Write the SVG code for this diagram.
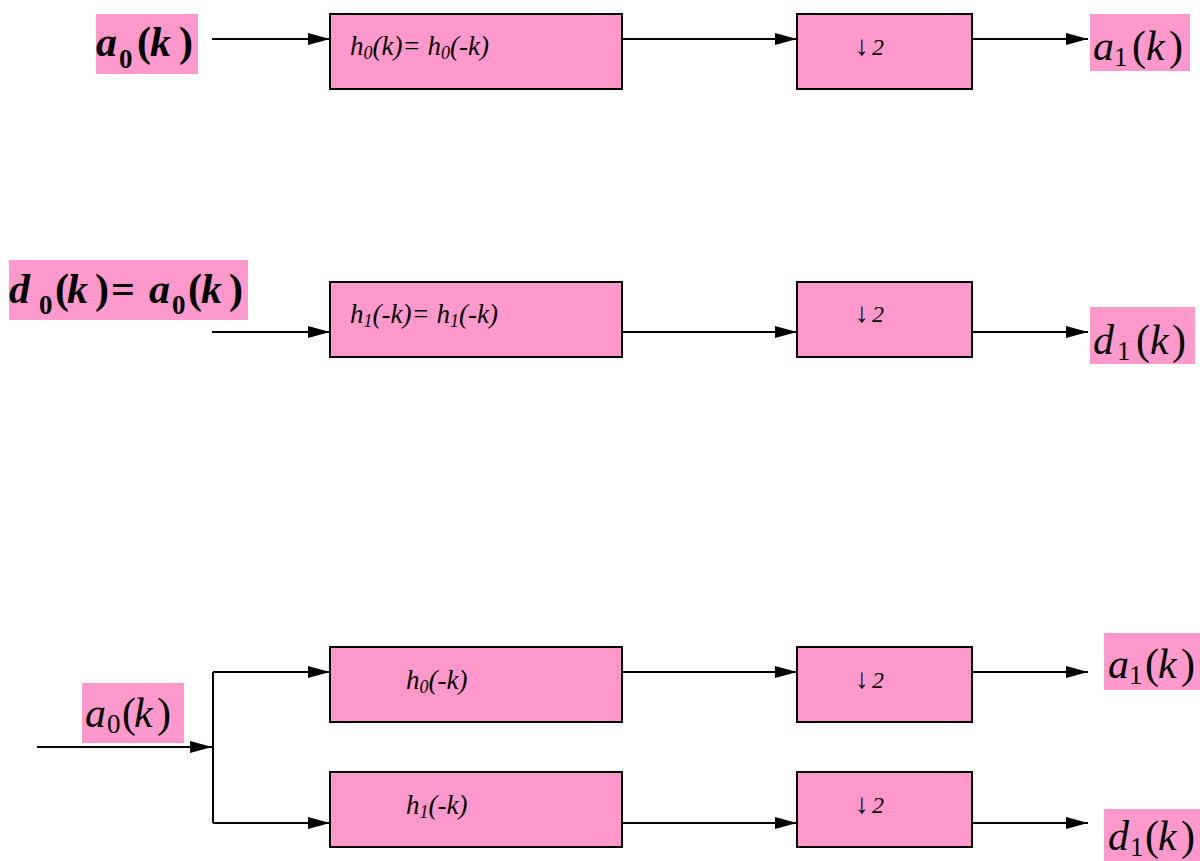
<svg xmlns="http://www.w3.org/2000/svg" width="1200" height="861" viewBox="0 0 1200 861">
  <style>
    .blk { fill: #ff99cc; stroke: #000; stroke-width: 2; }
    .tag { fill: #ff99cc; stroke: none; }
    .wire { fill: none; stroke: #000; stroke-width: 2; marker-end: url(#ah); }
    .plain { fill: none; stroke: #000; stroke-width: 2; }
    text { font-family: "Liberation Serif", "Times New Roman", "DejaVu Serif", serif; fill: #000; }
    .ft { font-style: italic; font-size: 27px; }
    .ft .s { font-size: 18px; }
    .dn { font-style: italic; font-size: 24px; }
    .dn .ar { font-size: 28px; font-style: normal; }
    .lb { font-size: 42px; }
    .lbb { font-size: 42px; font-weight: bold; }
    .sub { font-size: 27px; }
    .i { font-style: italic; }
  </style>
  <defs>
    <marker id="ah" markerWidth="22" markerHeight="12" refX="22" refY="6" orient="auto" markerUnits="userSpaceOnUse">
      <path d="M0,0 L22,6 L0,12 Z" fill="#000"/>
    </marker>
  </defs>

  <!-- connectors -->
  <g id="connectors">
    <path class="wire" d="M212,39 H330"/>
    <path class="wire" d="M622,39 H797"/>
    <path class="wire" d="M972,39 H1088"/>

    <path class="wire" d="M212,332 H330"/>
    <path class="wire" d="M622,332 H797"/>
    <path class="wire" d="M972,332 H1088"/>

    <path class="wire" d="M37,747 H212"/>
    <path class="plain" d="M213,672 V823"/>
    <path class="wire" d="M213,672 H330"/>
    <path class="wire" d="M213,823 H330"/>
    <path class="wire" d="M622,672 H797"/>
    <path class="wire" d="M622,823 H797"/>
    <path class="wire" d="M972,672 H1088"/>
    <path class="wire" d="M972,823 H1088"/>
  </g>

  <!-- analysis, lowpass branch -->
  <g id="in-a0">
    <rect class="tag" x="96" y="14" width="102" height="60"/>
    <text class="lbb"><tspan class="i" x="96" y="56">a</tspan><tspan class="sub" x="119" y="68">0</tspan><tspan x="137" y="56">(</tspan><tspan class="i" x="150" y="56">k</tspan><tspan x="179" y="56">)</tspan></text>
  </g>
  <g id="h0-filter">
    <rect class="blk" x="330" y="14" width="292" height="75"/>
    <text class="ft" x="350" y="55">h<tspan class="s" dy="4">0</tspan><tspan dy="-4">(k)= h</tspan><tspan class="s" dy="4">0</tspan><tspan dy="-4">(-k)</tspan></text>
  </g>
  <g id="down-a">
    <rect class="blk" x="797" y="14" width="175" height="75"/>
    <text class="dn"><tspan class="ar" x="855" y="55">↓</tspan><tspan x="872" y="55">2</tspan></text>
  </g>
  <g id="out-a1">
    <rect class="tag" x="1090" y="14" width="100" height="57"/>
    <text class="lb"><tspan class="i" x="1093" y="60">a</tspan><tspan class="sub" x="1114" y="66">1</tspan><tspan x="1132" y="60">(</tspan><tspan class="i" x="1146" y="60">k</tspan><tspan x="1169" y="60">)</tspan></text>
  </g>

  <!-- analysis, highpass branch -->
  <g id="in-d0">
    <rect class="tag" x="9" y="260" width="239" height="60"/>
    <text class="lbb"><tspan class="i" x="9" y="303">d</tspan><tspan class="sub" x="39" y="314">0</tspan><tspan x="55" y="303">(</tspan><tspan class="i" x="67" y="303">k</tspan><tspan x="95" y="303">)</tspan><tspan x="111" y="303">=</tspan><tspan class="i" x="149" y="303">a</tspan><tspan class="sub" x="172" y="314">0</tspan><tspan x="188" y="303">(</tspan><tspan class="i" x="201" y="303">k</tspan><tspan x="229" y="303">)</tspan></text>
  </g>
  <g id="h1-filter">
    <rect class="blk" x="330" y="282" width="292" height="75"/>
    <text class="ft" x="350" y="323">h<tspan class="s" dy="4">1</tspan><tspan dy="-4">(-k)= h</tspan><tspan class="s" dy="4">1</tspan><tspan dy="-4">(-k)</tspan></text>
  </g>
  <g id="down-d">
    <rect class="blk" x="797" y="282" width="175" height="75"/>
    <text class="dn"><tspan class="ar" x="855" y="322">↓</tspan><tspan x="872" y="322">2</tspan></text>
  </g>
  <g id="out-d1">
    <rect class="tag" x="1090" y="307" width="105" height="57"/>
    <text class="lb"><tspan class="i" x="1093" y="354">d</tspan><tspan class="sub" x="1117" y="360">1</tspan><tspan x="1136" y="354">(</tspan><tspan class="i" x="1150" y="354">k</tspan><tspan x="1172" y="354">)</tspan></text>
  </g>

  <!-- two-channel filter bank -->
  <g id="bank-in">
    <rect class="tag" x="82" y="683" width="102" height="60"/>
    <text class="lb"><tspan class="i" x="85" y="727">a</tspan><tspan class="sub" x="107" y="733">0</tspan><tspan x="122" y="727">(</tspan><tspan class="i" x="134" y="727">k</tspan><tspan x="157" y="727">)</tspan></text>
  </g>
  <g id="bank-h0">
    <rect class="blk" x="330" y="647" width="292" height="75"/>
    <text class="ft" x="406" y="689">h<tspan class="s" dy="4">0</tspan><tspan dy="-4">(-k)</tspan></text>
  </g>
  <g id="bank-h1">
    <rect class="blk" x="330" y="772" width="292" height="75"/>
    <text class="ft" x="406" y="814">h<tspan class="s" dy="4">1</tspan><tspan dy="-4">(-k)</tspan></text>
  </g>
  <g id="bank-down-a">
    <rect class="blk" x="797" y="647" width="175" height="75"/>
    <text class="dn"><tspan class="ar" x="855" y="688">↓</tspan><tspan x="872" y="688">2</tspan></text>
  </g>
  <g id="bank-down-d">
    <rect class="blk" x="797" y="772" width="175" height="75"/>
    <text class="dn"><tspan class="ar" x="855" y="813">↓</tspan><tspan x="872" y="813">2</tspan></text>
  </g>
  <g id="bank-out-a1">
    <rect class="tag" x="1104" y="633" width="96" height="57"/>
    <text class="lb"><tspan class="i" x="1108" y="678">a</tspan><tspan class="sub" x="1129" y="684">1</tspan><tspan x="1145" y="678">(</tspan><tspan class="i" x="1158" y="678">k</tspan><tspan x="1181" y="678">)</tspan></text>
  </g>
  <g id="bank-out-d1">
    <rect class="tag" x="1104" y="809" width="96" height="52"/>
    <text class="lb"><tspan class="i" x="1108" y="850">d</tspan><tspan class="sub" x="1130" y="856">1</tspan><tspan x="1145" y="850">(</tspan><tspan class="i" x="1158" y="850">k</tspan><tspan x="1181" y="850">)</tspan></text>
  </g>
</svg>
